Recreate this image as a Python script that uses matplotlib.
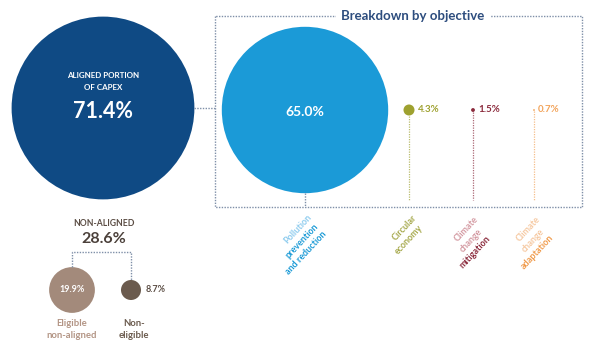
import numpy as np
import matplotlib.pyplot as plt
from matplotlib.patches import Circle

plt.rcParams['font.family'] = ['Lato', 'DejaVu Sans']

# DATA

aligned_value = 71.4
non_aligned_value = 28.6

objective_labels = [
    ["Pollution", "prevention", "and reduction"],
    ["Circular", "economy"],
    ["Climate", "change", "mitigation"],
    ["Climate", "change", "adaptation"],
]
objective_values = [65.0, 4.3, 1.5, 0.7]
objective_colors = ["#1b9ad7", "#9ea12f", "#8b2a3c", "#f2a35a"]
objective_label_colors = [
    ["#8ccbee", "#1a9ad6", "#1a9ad6"],
    ["#a5a84a", "#a5a84a"],
    ["#d49aa2", "#d49aa2", "#8b2a3c"],
    ["#f6c9a2", "#f6c9a2", "#f09a4a"],
]

non_aligned_labels = [["Eligible", "non-aligned"], ["Non-", "eligible"]]
non_aligned_values = [19.9, 8.7]
non_aligned_colors = ["#a38a7b", "#6b5b4e"]
non_aligned_label_colors = ["#b39585", "#6b5b4e"]

# radius in px per percentage point
R_SCALE = 1.28
NA_SCALE = 1.15

# LAYOUT (pixel coords, y down)

fig = plt.figure(figsize=(5.93, 3.40), dpi=100)
ax = fig.add_axes([0, 0, 1, 1])
ax.set_xlim(0, 593)
ax.set_ylim(340, 0)
ax.axis("off")

dot_line = dict(color="#7f8fa8", lw=1.0, linestyle=(0, (1, 1)))

# big aligned circle
big_c = (103, 108)
ax.add_patch(Circle(big_c, R_SCALE * aligned_value, color="#0f4a84", lw=0))
ax.text(big_c[0], 76, "ALIGNED PORTION", color="white", fontsize=5.8,
        fontweight="bold", ha="center", va="center")
ax.text(big_c[0], 87, "OF CAPEX", color="white", fontsize=5.8,
        fontweight="bold", ha="center", va="center")
ax.text(big_c[0], 111, f"{aligned_value:.1f}%", color="white", fontsize=15.5,
        fontweight="bold", ha="center", va="center")

# breakdown box
box_l, box_r, box_t, box_b = 215, 582, 16, 207
ax.plot([box_l, box_l, box_r, box_r, box_l], [box_t, box_b, box_b, box_t, box_t],
        **dot_line)
ax.plot([big_c[0] + R_SCALE * aligned_value, box_l], [big_c[1], big_c[1]], **dot_line)
ax.text(413, box_t, "Breakdown by objective", color="#2d4d7e", fontsize=9.5,
        fontweight="bold", ha="center", va="center",
        bbox=dict(facecolor="white", edgecolor="none", pad=4))

# objective circles
obj_x = [305, 409, 473, 534]
obj_y = 110
label_pos = [(302, 241), (407, 234), (471, 241), (533, 241)]
angle = 47
line_dx, line_dy = 4.5, 11.5

for i, val in enumerate(objective_values):
    r = R_SCALE * val
    ax.add_patch(Circle((obj_x[i], obj_y), r, color=objective_colors[i], lw=0))
    if i == 0:
        ax.text(obj_x[i], obj_y + 2, f"{val:.1f}%", color="white", fontsize=10,
                fontweight="bold", ha="center", va="center")
        ax.plot([obj_x[i], obj_x[i]], [obj_y + r, box_b], **dot_line)
    else:
        ax.text(obj_x[i] + r + 3, obj_y, f"{val:.1f}%", color=objective_colors[i],
                fontsize=7, fontweight="bold", ha="left", va="center")
        ax.plot([obj_x[i], obj_x[i]], [obj_y + r, 200], color=objective_colors[i],
                lw=0.9, linestyle=(0, (1, 1)), alpha=0.7)

    lines = objective_labels[i]
    n = len(lines)
    for j, line in enumerate(lines):
        off = j - (n - 1) / 2
        ax.text(label_pos[i][0] + off * line_dx, label_pos[i][1] + off * line_dy, line,
                color=objective_label_colors[i][j], fontsize=6.5, fontweight="bold",
                rotation=angle, rotation_mode="anchor", ha="center", va="center")

# non-aligned part
ax.text(104, 223, "NON-ALIGNED", color="#5b4d44", fontsize=6.2, fontweight="bold",
        ha="center", va="center")
ax.text(104, 239, f"{non_aligned_value:.1f}%", color="#4b403a", fontsize=11.5,
        fontweight="bold", ha="center", va="center")

na_x = [72, 131]
na_y = 290
top_y = 252
ax.plot([na_x[0], na_x[0], na_x[1], na_x[1]],
        [na_y - NA_SCALE * non_aligned_values[0], top_y, top_y,
         na_y - NA_SCALE * non_aligned_values[1]], **dot_line)

for i, val in enumerate(non_aligned_values):
    r = NA_SCALE * val
    ax.add_patch(Circle((na_x[i], na_y), r, color=non_aligned_colors[i], lw=0))
    if i == 0:
        ax.text(na_x[i], na_y, f"{val:.1f}%", color="white", fontsize=6.5,
                fontweight="bold", ha="center", va="center")
    else:
        ax.text(na_x[i] + r + 5, na_y, f"{val:.1f}%", color="#5b4d44", fontsize=6.5,
                fontweight="bold", ha="left", va="center")
    for j, line in enumerate(non_aligned_labels[i]):
        ax.text(na_x[i] + (3 if i == 1 else 0), 323 + j * 13, line,
                color=non_aligned_label_colors[i], fontsize=6.8, fontweight="bold",
                ha="center", va="center")

fig.savefig("out.png", dpi=100)
